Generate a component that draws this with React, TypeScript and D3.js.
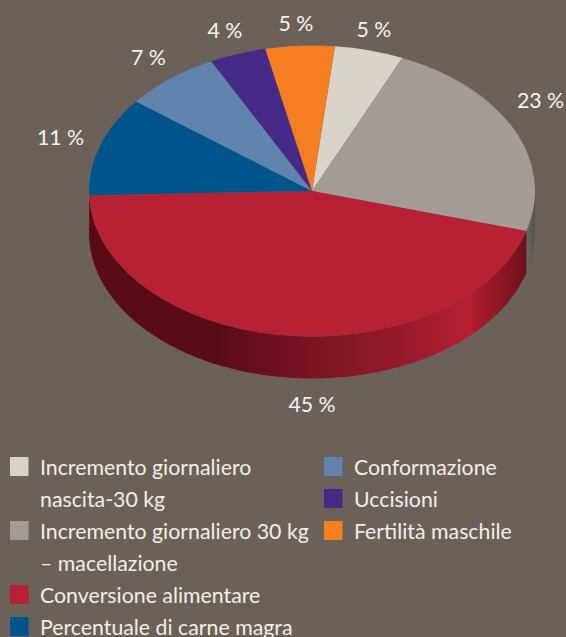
import React, { useEffect } from "react";
import * as d3 from "d3";

const sliceNames = [
  "Incremento giornaliero nascita-30 kg",
  "Incremento giornaliero 30 kg – macellazione",
  "Conversione alimentare",
  "Percentuale di carne magra",
  "Conformazione",
  "Uccisioni",
  "Fertilità maschile",
];
const sliceValues = [5, 22.8, 45.1, 11, 7, 4.1, 5];
const sliceColors = ["#d8d2c9", "#a59b95", "#b82033", "#00568c", "#6084ae", "#472a88", "#f57e20"];
const sliceLabels = ["5 %", "23 %", "45 %", "11 %", "7 %", "4 %", "5 %"];

const legendLeft = [
  { lines: ["Incremento giornaliero", "nascita-30 kg"], color: 0 },
  { lines: ["Incremento giornaliero 30 kg", "– macellazione"], color: 1 },
  { lines: ["Conversione alimentare"], color: 2 },
  { lines: ["Percentuale di carne magra"], color: 3 },
];
const legendRight = [
  { lines: ["Conformazione"], color: 4 },
  { lines: ["Uccisioni"], color: 5 },
  { lines: ["Fertilità maschile"], color: 6 },
];

const BG = "#6c6158";
const FONT = "Lato, 'Open Sans', sans-serif";
const FONT_SIZE = 21.3;
const CX = 312, CY = 191, RX = 223, RY = 145.5, DEPTH = 42;
const START = (5.9 * Math.PI) / 180;
const labelPos: [number, number][] = [[374, 37], [540.5, 107.5], [312, 412], [60.5, 145], [148.5, 65], [225, 38], [296, 31]];

const redStops: [number, string][] = [
  [89, "#5a0c16"], [220, "#5a0c16"], [280, "#701220"], [347, "#851726"], [413, "#9c1b2c"],
  [472, "#b82033"], [474, "#a81d2e"], [500, "#8f1725"], [527, "#6f101c"],
];

export default function App() {
  useEffect(() => {
    document.body.style.margin = "0";
    document.body.style.background = BG;
  }, []);

  const pie = d3.pie<number>().sort(null).startAngle(START).endAngle(START + Math.PI * 2);
  const arcs = pie(sliceValues);
  const arc = d3.arc<d3.PieArcDatum<number>>().innerRadius(0).outerRadius(RX);
  const yK = RY / RX;

  const sx = (a: number) => RX * Math.sin(a);
  const sy = (a: number) => -RY * Math.cos(a);

  const sidePath = (a0: number, a1: number) => {
    const from = Math.max(a0, Math.PI / 2);
    const to = Math.min(a1, (3 * Math.PI) / 2);
    if (to <= from) return null;
    const angles = d3.range(0, 61).map((i) => from + ((to - from) * i) / 60);
    const line = d3.line<[number, number]>();
    const top = angles.map((a) => [sx(a), sy(a)] as [number, number]);
    const bottom = angles.slice().reverse().map((a) => [sx(a), sy(a) + DEPTH] as [number, number]);
    return line(top.concat(bottom)) + "Z";
  };

  const redX = d3.scaleLinear().domain([CX - RX, CX + RX * Math.sin(arcs[2].startAngle)]).range([0, 1]).clamp(true);

  const legendRow = (item: { lines: string[]; color: number }, row: number, swatchX: number, textX: number, key: string) => (
    <g key={key}>
      <rect x={swatchX} y={457 + row * 32} width={18.5} height={19} fill={sliceColors[item.color]} />
      {item.lines.map((t, i) => (
        <text key={t} x={textX} y={475 + (row + i) * 32} fontSize={FONT_SIZE} fill="#f1eeea" fontFamily={FONT}>{t}</text>
      ))}
    </g>
  );

  let rowL = 0;
  const leftRows = legendLeft.map((it) => {
    const r = rowL;
    rowL += it.lines.length;
    return legendRow(it, r, 10, 40, "l" + r);
  });
  const rightRows = legendRight.map((it, i) => legendRow(it, i, 324, 354, "r" + i));

  return (
    <svg width={566} height={637} viewBox="0 0 566 637" style={{ position: "fixed", left: 0, top: 0, display: "block", background: BG }}>
      <defs>
        <linearGradient id="redSide" x1="0" x2="1" y1="0" y2="0">
          {redStops.map(([x, c]) => (
            <stop key={x} offset={redX(x)} stopColor={c} />
          ))}
        </linearGradient>
        <linearGradient id="greySide" x1="0" x2="1" y1="0" y2="0">
          <stop offset={0} stopColor="#6a6661" />
          <stop offset={1} stopColor="#56534f" />
        </linearGradient>
      </defs>
      <rect width={566} height={637} fill={BG} />
      <g transform={`translate(${CX},${CY})`}>
        {arcs.map((d, i) => {
          const p = sidePath(d.startAngle, d.endAngle);
          if (!p) return null;
          return <path key={i} d={p} fill={i === 2 ? "url(#redSide)" : "url(#greySide)"} />;
        })}
        <g transform={`scale(1,${yK})`}>
          {arcs.map((d, i) => (
            <path key={i} d={arc(d) || ""} fill={sliceColors[i]} />
          ))}
        </g>
      </g>
      {sliceLabels.map((t, i) => (
        <text key={i} x={labelPos[i][0]} y={labelPos[i][1]} textAnchor="middle" fontSize={FONT_SIZE} fill="#f6f4f1" fontFamily={FONT} aria-label={sliceNames[i]}>{t}</text>
      ))}
      {leftRows}
      {rightRows}
    </svg>
  );
}
